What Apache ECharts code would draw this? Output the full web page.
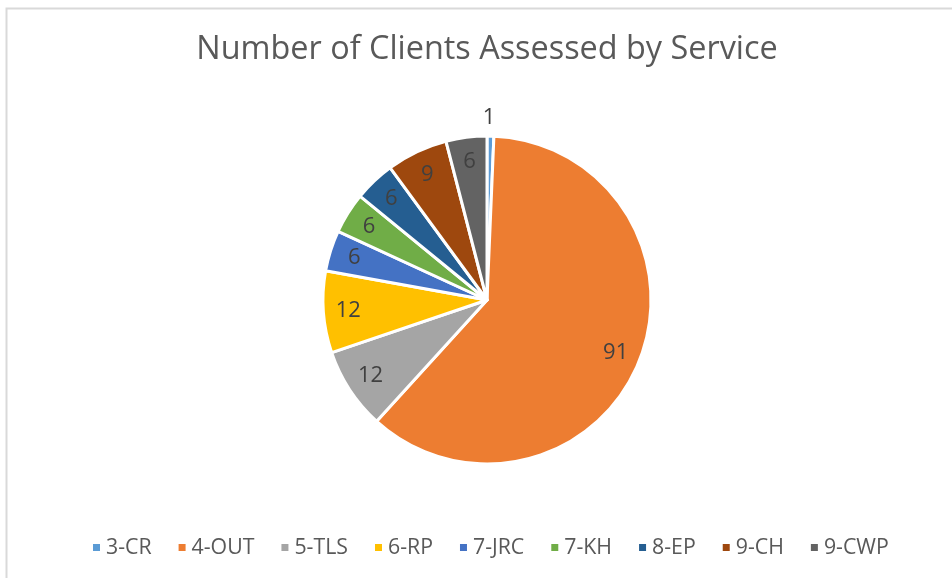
<!DOCTYPE html>
<html>
<head>
<meta charset="utf-8">
<script src="https://cdn.jsdelivr.net/npm/echarts@6/dist/echarts.min.js"></script>
<style>html,body{margin:0;padding:0;background:#fff}#c{width:952px;height:578px}</style>
</head>
<body>
<div id="c"></div>
<script>
const categories = ['3-CR','4-OUT','5-TLS','6-RP','7-JRC','7-KH','8-EP','9-CH','9-CWP'];
const clients = [1, 91, 12, 12, 6, 6, 6, 9, 6];
const colors = ['#5B9BD5','#ED7D31','#A5A5A5','#FFC000','#4472C4','#70AD47','#255E91','#9E480E','#636363'];
const titleText = 'Number of Clients Assessed by Service';

const FONT = 'Open Sans';
const R = 164;
const center = [487, 300];

const mainData = categories.map((c, i) => ({
  name: c, value: clients[i],
  itemStyle: { color: colors[i] },
  label: i === 0 ? { show: true, position: 'outside', distanceToLabelLine: -8 } : { show: false }
}));
const labelData = categories.map((c, i) => ({
  name: c, value: clients[i],
  label: { show: i !== 0 }
}));

const chart = echarts.init(document.getElementById('c'), null, { renderer: 'canvas' });
chart.setOption({
  animation: false,
  color: colors,
  title: {
    text: titleText, left: 482, textAlign: 'center', top: 29,
    textStyle: { fontFamily: FONT, fontSize: 32.4, fontWeight: 'normal', color: '#595959' }
  },
  legend: {
    bottom: 15, left: 86,
    data: categories,
    icon: 'rect', itemWidth: 9, itemHeight: 9, itemGap: 25,
    textStyle: { fontFamily: FONT, fontSize: 21.3, color: '#595959' }
  },
  graphic: [{
    type: 'rect', silent: true, z: -10,
    shape: { x: 6.5, y: 8.5, width: 1000, height: 1000 },
    style: { fill: 'none', stroke: '#d9d9d9', lineWidth: 2 }
  }],
  series: [{
    type: 'pie', center: center, radius: [0, R],
    startAngle: 90, clockwise: true,
    minAngle: 0,
    avoidLabelOverlap: false,
    itemStyle: { borderColor: '#fff', borderWidth: 3 },
    label: { fontFamily: FONT, fontSize: 22, color: '#404040', formatter: '{c}' },
    labelLine: { show: false, length: 18, length2: 0 },
    emphasis: { disabled: true },
    data: mainData
  }, {
    type: 'pie', center: center, radius: [R * 0.66, R],
    startAngle: 90, clockwise: true,
    silent: true,
    avoidLabelOverlap: false,
    itemStyle: { color: 'rgba(0,0,0,0)', borderWidth: 0 },
    label: { position: 'inside', fontFamily: FONT, fontSize: 22, color: '#404040', formatter: '{c}' },
    labelLine: { show: false },
    emphasis: { disabled: true },
    tooltip: { show: false },
    data: labelData
  }]
});
</script>
</body>
</html>
